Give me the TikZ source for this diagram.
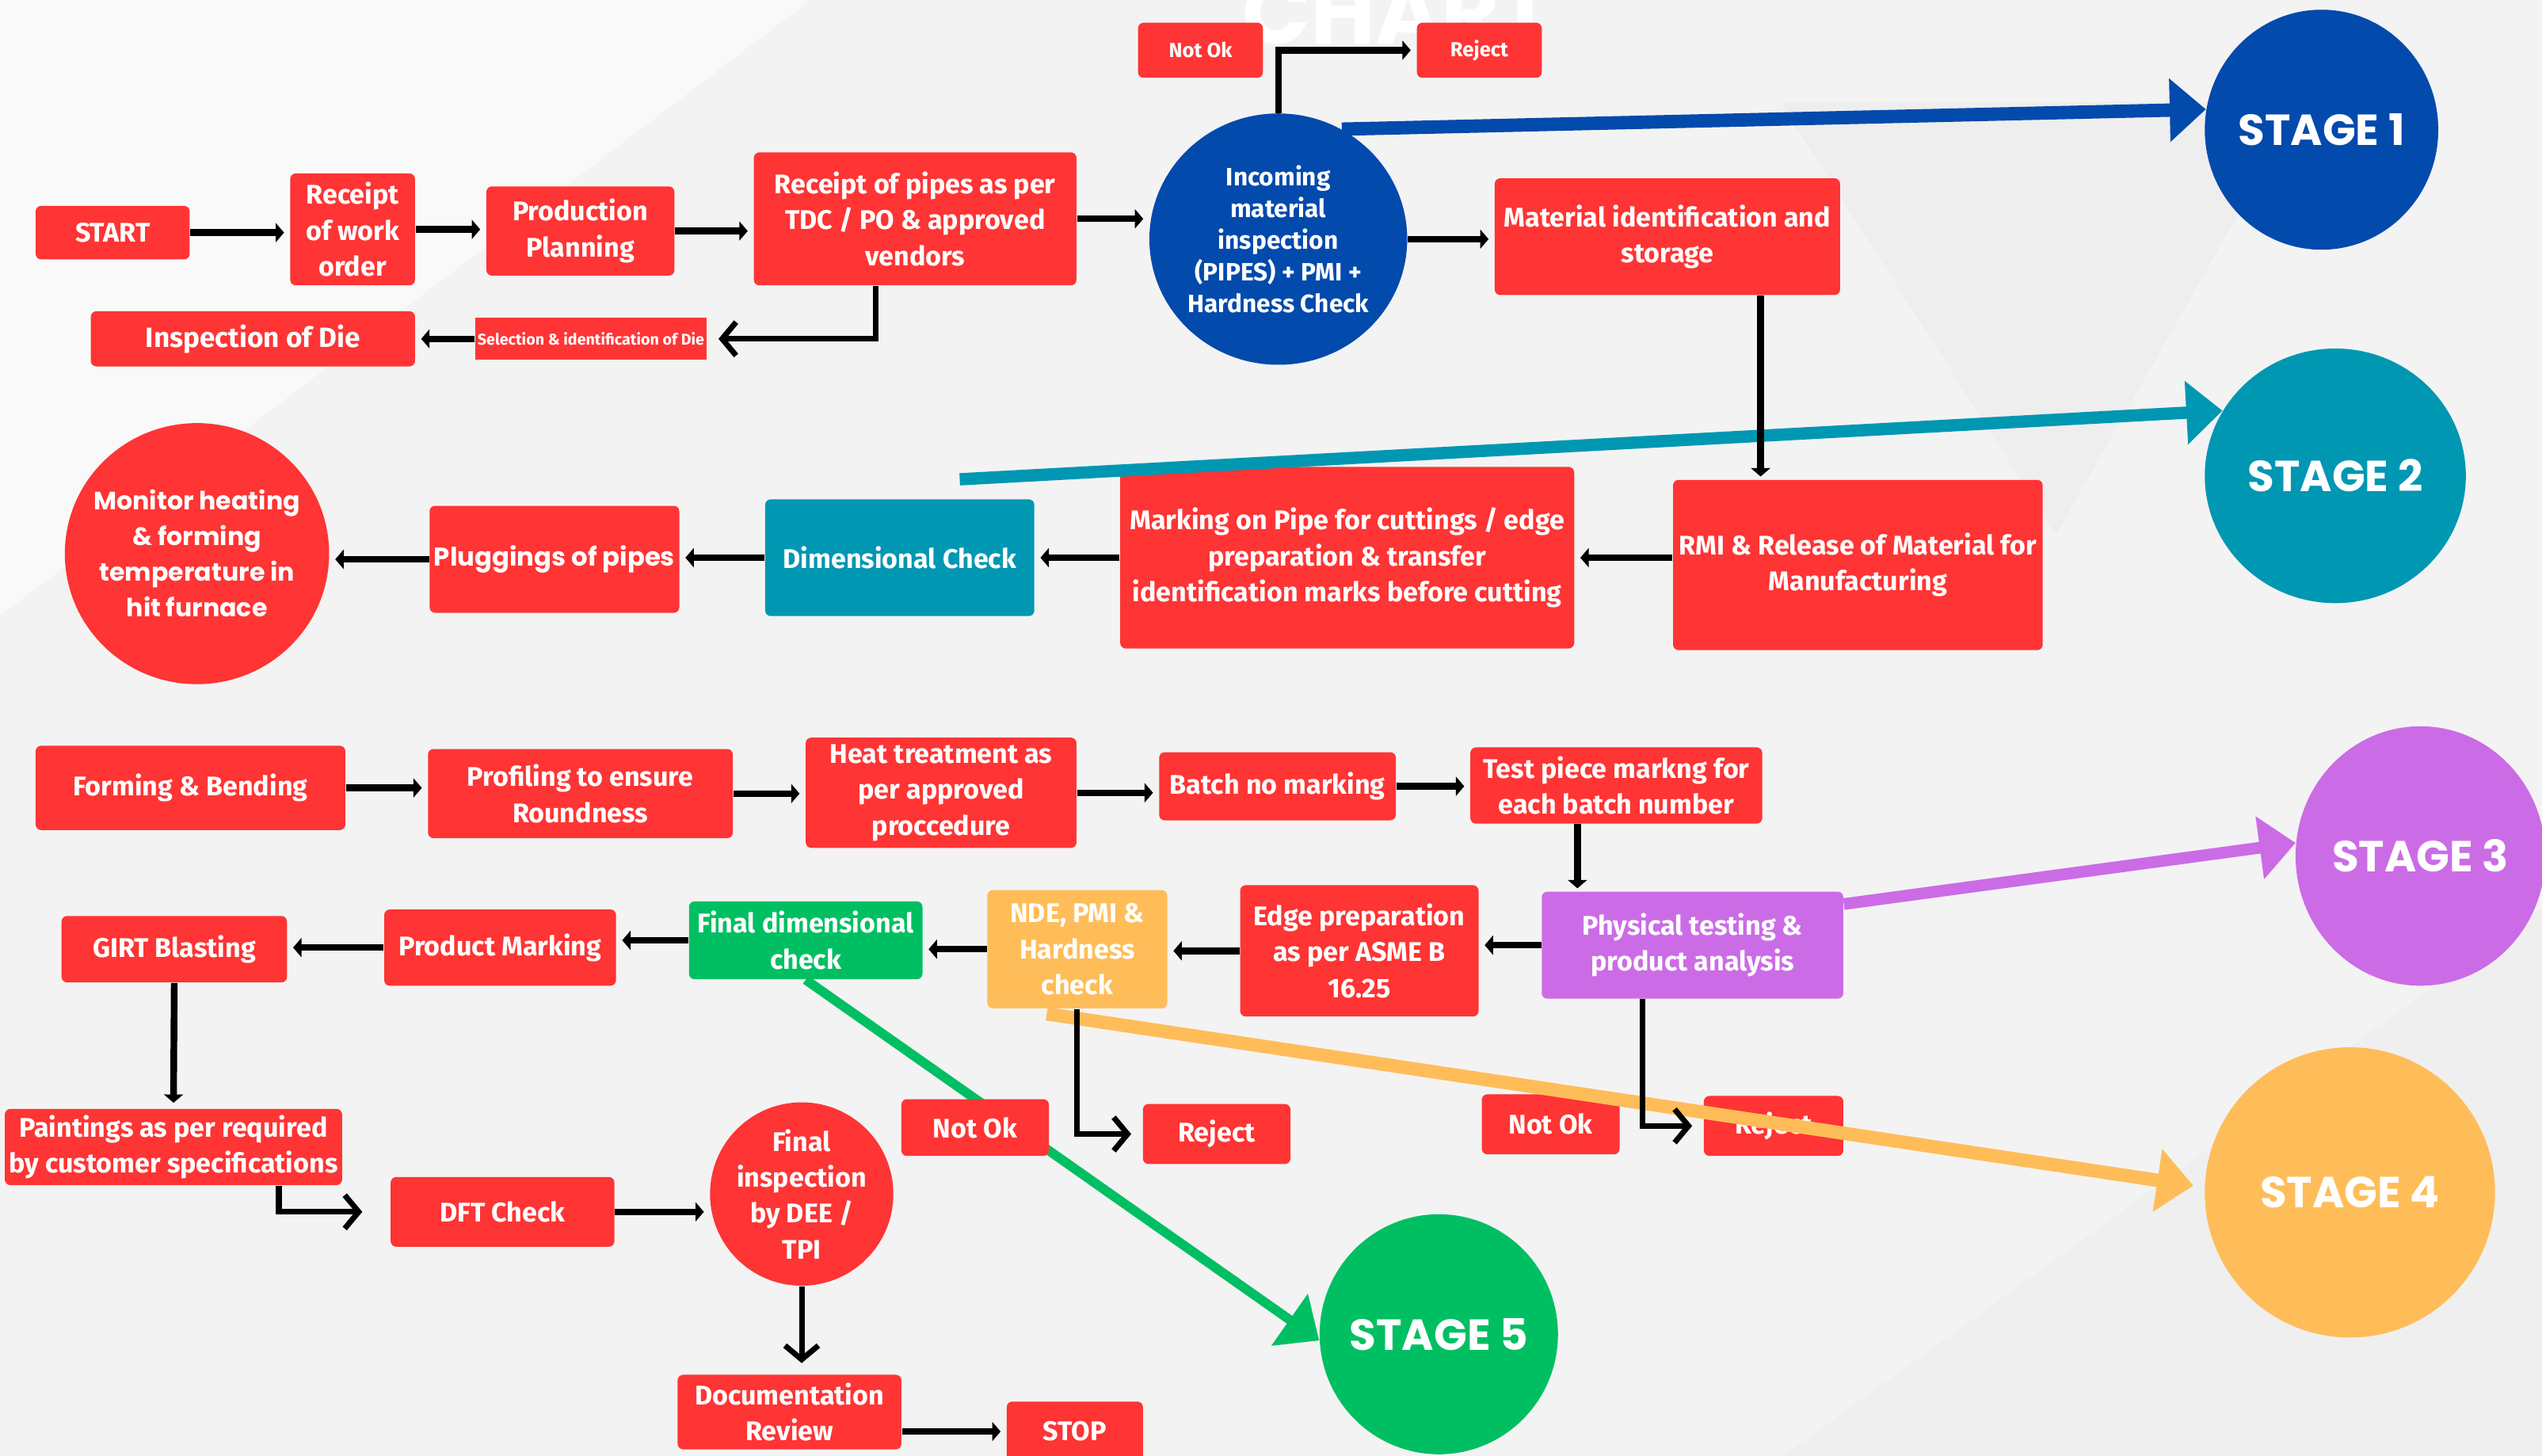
\documentclass[tikz,border=0pt]{standalone}
\usepackage{fontspec}
\setmainfont{Fira Sans}
\newfontfamily\popfont{Poppins}
\usetikzlibrary{positioning, arrows.meta, shapes.geometric}

\definecolor{boxred}{HTML}{FF3434}
\definecolor{stageblue}{HTML}{034AAD}
\definecolor{stageteal}{HTML}{0097B2}
\definecolor{stagepurple}{HTML}{CB6CE6}
\definecolor{stageorange}{HTML}{FFBD59}
\definecolor{stagegreen}{HTML}{00BF63}
\definecolor{bggray}{HTML}{F3F3F3}

% one pixel of the layout grid
\newcommand{\unitpx}{0.5823pt}

\begin{document}
\begin{tikzpicture}[x=0.020466cm, y=-0.020466cm,
	wh/.style 2 args={minimum width=#1*\unitpx, minimum height=#2*\unitpx},
	box/.style={rectangle, rounded corners=2pt, fill=boxred, text=white, align=center, inner sep=0pt, font=\bfseries\fontsize{9.7}{12.9}\selectfont},
	blob/.style={ellipse, fill=boxred, text=white, align=center, inner sep=0pt, font=\bfseries\fontsize{9.7}{12.9}\selectfont},
	stage/.style={ellipse, inner sep=-8pt, text=white, font=\popfont\bfseries\fontsize{15.6}{18}\selectfont},
	flow/.style={line width=2.4pt, -{Triangle[length=3pt, width=6.8pt]}, shorten >=2pt},
	elbow/.style={line width=2pt, -{Straight Barb[length=5pt, width=12pt]}, shorten >=4pt},
	link/.style={line width=4.8pt, -{Triangle[length=13pt, width=22pt]}},
]
		% Background and faint shapes
		\useasboundingbox (0,0) rectangle (1568,898);
		\clip (0,0) rectangle (1568,898);
		\fill[bggray] (0,0) rectangle (1568,898);
		\fill[black, opacity=0.02] (1098,63) -- (1420,63) -- (1268,330) -- cycle;
		\fill[white, opacity=0.5] (0,0) -- (500,0) -- (0,380) -- cycle;
		\fill[black, opacity=0.015] (1100,898) -- (1568,560) -- (1568,898) -- cycle;
		\node[text=white, anchor=base, font=\popfont\bfseries\fontsize{32}{36}\selectfont] (charttitle) at (862,27) {CHART};

		% First row
		\node[box, wh={95}{33}] (start) at (69.5,143.5) {START};
		\node[box, wh={77}{69}] (workorder) at (217.5,141.5) {Receipt\\of work\\order};
		\node[box, wh={116}{55}] (planning) at (358,142.5) {Production\\Planning};
		\node[box, wh={199}{82}] (pipes) at (564.5,135) {Receipt of pipes as per\\TDC / PO \& approved\\vendors};
		\node[blob, fill=stageblue, wh={159}{155}, font=\bfseries\fontsize{9}{11.4}\selectfont] (incoming) at (788.5,147.5) {Incoming\\material\\inspection\\(PIPES) + PMI +\\Hardness Check};
		\node[box, wh={213}{72}] (matid) at (1028.5,146) {Material identification and\\storage};
		\node[box, wh={77}{34}, font=\bfseries\fontsize{7.3}{9}\selectfont] (notok1) at (740.5,31) {Not Ok};
		\node[box, wh={77}{34}, font=\bfseries\fontsize{7.3}{9}\selectfont] (reject1) at (912.5,31) {Reject};
		\node[box, wh={200}{34}, font=\bfseries\fontsize{10}{11}\selectfont] (diecheck) at (156,209) {Inspection of Die};
		\node[box, wh={143}{26}, rounded corners=0pt, font=\bfseries\fontsize{5.6}{6}\selectfont] (dieselect) at (364.5,209) {Selection \& identification of Die};

		% Stage circles
		\node[stage, fill=stageblue, wh={144}{148}] (stage1) at (1432,80) {STAGE 1};
		\node[stage, fill=stageteal, wh={161}{157}] (stage2) at (1440.5,293.5) {STAGE 2};
		\node[stage, fill=stagepurple, wh={154}{160}] (stage3) at (1493,528) {STAGE 3};
		\node[stage, fill=stageorange, wh={179}{179}] (stage4) at (1449.5,735.5) {STAGE 4};
		\node[stage, fill=stagegreen, wh={147}{148}] (stage5) at (887.5,823) {STAGE 5};

		% Second row
		\node[box, wh={228}{105}] (rmi) at (1146,348.5) {RMI \& Release of Material for\\Manufacturing};
		\node[box, wh={280}{112}] (marking) at (831,344) {Marking on Pipe for cuttings / edge\\preparation \& transfer\\identification marks before cutting};
		\node[box, fill=stageteal, wh={166}{72}] (dimcheck) at (555,344) {Dimensional Check};
		\node[box, wh={154}{66}, font=\popfont\bfseries\fontsize{9.2}{12}\selectfont] (plugging) at (342,345) {Pluggings of pipes};
		\node[blob, wh={163}{161}, inner xsep=-5pt, font=\popfont\bfseries\fontsize{9}{12.8}\selectfont] (monitor) at (121.5,341.5) {Monitor heating\\\& forming\\temperature in\\hit furnace};

		% Third row
		\node[box, wh={191}{52}] (forming) at (117.5,486) {Forming \& Bending};
		\node[box, wh={188}{55}] (profiling) at (358,489.5) {Profiling to ensure\\Roundness};
		\node[box, wh={167}{68}] (heattreat) at (580.5,489) {Heat treatment as\\per approved\\proccedure};
		\node[box, wh={146}{42}] (batchno) at (788,485) {Batch no marking};
		\node[box, wh={180}{47}] (testpiece) at (997,484.5) {Test piece markng for\\each batch number};

		% Fourth row
		\node[box, fill=stagepurple, wh={186}{66}] (physical) at (1044,583) {Physical testing \&\\product analysis};
		\node[box, wh={147}{81}] (edgeprep) at (838.5,586.5) {Edge preparation\\as per ASME B\\16.25};
		\node[box, fill=stageorange, wh={111}{73}] (nde) at (664.5,585.5) {NDE, PMI \&\\Hardness\\check};
		\node[box, fill=stagegreen, wh={144}{48}] (finaldim) at (497,580) {Final dimensional\\check};
		\node[box, wh={143}{47}] (prodmark) at (308.5,584.5) {Product Marking};
		\node[box, wh={139}{41}] (girt) at (107.5,585.5) {GIRT Blasting};
		\node[box, wh={91}{37}] (reject2) at (750.5,699.5) {Reject};
		\node[box, wh={85}{37}] (notok3) at (956.5,693.5) {Not Ok};
		\node[box, wh={86}{37}] (reject3) at (1094,694.5) {Reject};

		% Last row
		\node[box, wh={208}{47}] (painting) at (107,707.5) {Paintings as per required\\by customer specifications};
		\node[box, wh={138}{43}] (dft) at (310,747.5) {DFT Check};
		\node[blob, wh={113}{113}] (finalinsp) at (494.5,736.5) {Final\\inspection\\by DEE /\\TPI};
		\node[box, wh={138}{46}] (docreview) at (487,871) {Documentation\\Review};
		\node[box, wh={84}{37}] (stop) at (663,883) {STOP};

		% Stage links
		\draw[link, stageblue] (incoming.60) -- (stage1.170);
		\draw[link, stageteal, line width=4.4pt] ([shift={(37,-12)}]dimcheck.north) -- (stage2.150);
		\draw[link, stagepurple, line width=4.2pt] ([shift={(0,8)}]physical.north east) -- (stage3.174);
		\draw[link, stagegreen, line width=3.4pt] (finaldim.south) -- (stage5.183);
		\draw[link, stageorange, shorten >=4pt] ([shift={(37,3)}]nde.south west) -- (stage4.178);
		\node[box, wh={91}{35}] (notok2) at (601.5,695.5) {Not Ok}; % sits on the green link

		% Columns for the vertical drops
		\coordinate (drop1) at (1086,0);
		\coordinate (drop2) at (973,0);
		\coordinate (elb1) at (540,0);
		\coordinate (elb2) at (1013,0);
		\coordinate (elb3) at (172,0);

		% Process arrows
		\draw[flow] (start.east) -- (start.east -| workorder.west);
		\draw[flow] (workorder.east) -- (workorder.east -| planning.west);
		\draw[flow] (planning.east) -- (planning.east -| pipes.west);
		\draw[flow] (pipes.east) -- (pipes.east -| incoming.west);
		\draw[flow] (incoming.east) -- (incoming.east -| matid.west);
		\draw[flow] (incoming.north) |- (reject1.west);
		\draw[elbow] (pipes.south -| elb1) |- (dieselect.east);
		\draw[flow] (dieselect.west) -- (dieselect.west -| diecheck.east);
		\draw[flow, shorten >=1pt] (matid.south -| drop1) -- (rmi.north -| drop1);
		\draw[flow] (marking.east -| rmi.west) -- (marking.east);
		\draw[flow] (marking.west) -- (marking.west -| dimcheck.east);
		\draw[flow] (dimcheck.west) -- (dimcheck.west -| plugging.east);
		\draw[flow] (plugging.west) -- (plugging.west -| monitor.east);
		\draw[flow] (forming.east) -- (forming.east -| profiling.west);
		\draw[flow] (profiling.east) -- (profiling.east -| heattreat.west);
		\draw[flow] (heattreat.east) -- (heattreat.east -| batchno.west);
		\draw[flow] (batchno.east) -- (batchno.east -| testpiece.west);
		\draw[flow, shorten >=1pt] (testpiece.south -| drop2) -- (physical.north -| drop2);
		\draw[flow] (physical.west) -- (physical.west -| edgeprep.east);
		\draw[flow] (edgeprep.west) -- (edgeprep.west -| nde.east);
		\draw[flow] (nde.west) -- (nde.west -| finaldim.east);
		\draw[flow] (finaldim.west) -- (finaldim.west -| prodmark.east);
		\draw[flow] (prodmark.west) -- (prodmark.west -| girt.east);
		\draw[flow] (girt.south) -- (painting.north);
		\draw[elbow] (nde.south) |- (reject2.west);
		\draw[elbow] (physical.south -| elb2) |- (reject3.west);
		\draw[elbow, shorten >=10pt] (painting.south -| elb3) |- (dft.west);
		\draw[flow] (dft.east) -- (dft.east -| finalinsp.west);
		\draw[elbow] (finalinsp.south) -- (finalinsp.south |- docreview.north);
		\draw[flow] (stop.west -| docreview.east) -- (stop.west);
	\end{tikzpicture}
\end{document}
